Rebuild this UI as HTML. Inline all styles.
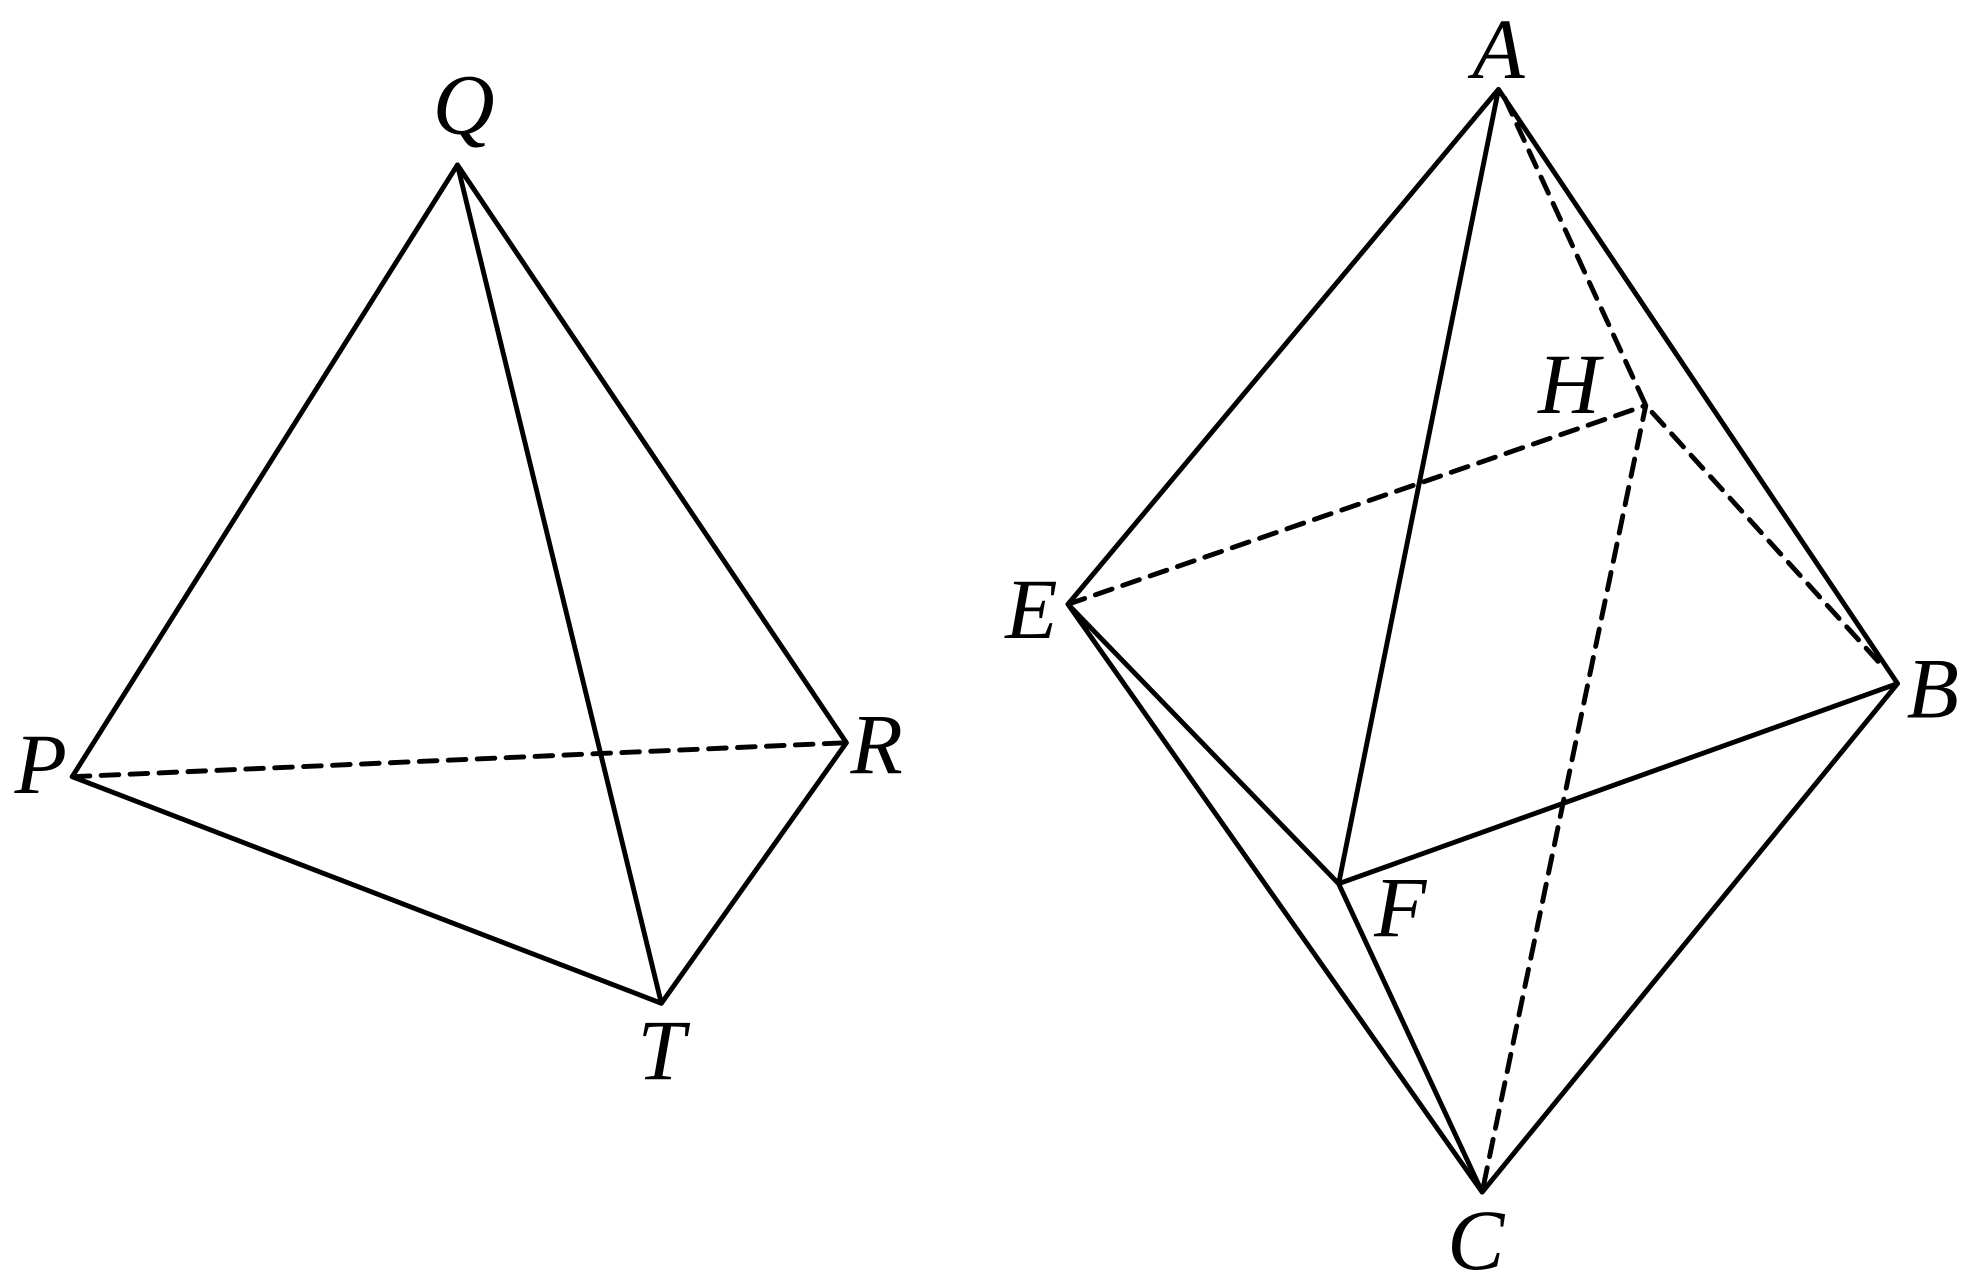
<!DOCTYPE html>
<html><head><meta charset="utf-8"><style>html,body{margin:0;padding:0;background:#fff}svg{display:block}
text{font-family:"Liberation Serif","Times New Roman",serif;font-style:italic;font-size:68px}</style></head>
<body>
<svg width="1966" height="1279" viewBox="0 0 1561 1016" xmlns="http://www.w3.org/2000/svg">
<g stroke="#000" stroke-width="3.9" fill="none" stroke-linejoin="round" stroke-linecap="round">
<path d="M363,131 L57,617 L525,797 L363,131 L672,590 L525,797"/>
<path d="M57,617 L672,590" stroke-dasharray="14,9"/>
<path d="M1190,71 L848,480 L1177,947 L1507,543 L1190,71 L1063,702 L1177,947 M848,480 L1063,702 L1507,543"/>
<path d="M1195,78 L1307,322 L1493,527 M848,480 L1307,322 L1177,947" stroke-dasharray="14,9"/>
</g>
<g fill="#000" text-anchor="middle">
<text x="368" y="106">Q</text>
<text x="32" y="630">P</text>
<text x="696" y="614">R</text>
<text x="525" y="857">T</text>
<text x="1190" y="62">A</text>
<text x="1246" y="328">H</text>
<text x="819" y="507">E</text>
<text x="1535" y="570">B</text>
<text x="1112" y="744">F</text>
<text x="1172" y="1008">C</text>
</g>
</svg>
</body></html>
